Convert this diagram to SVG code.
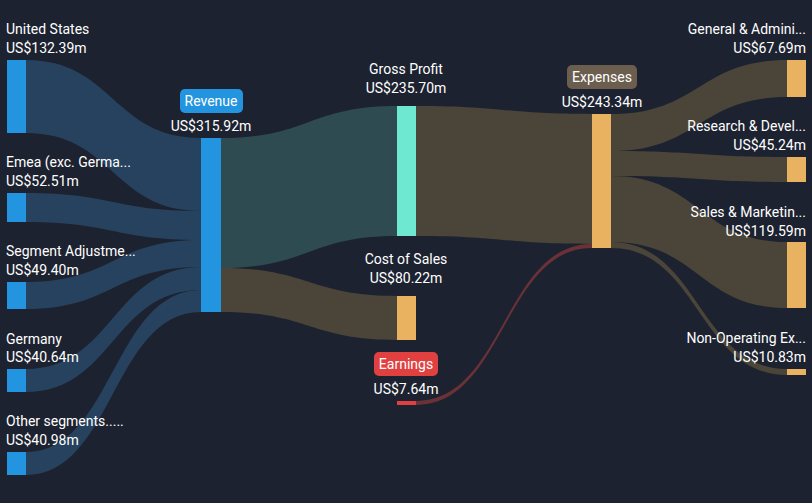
<svg xmlns="http://www.w3.org/2000/svg" width="812" height="503" viewBox="0 0 812 503">
<style>
text{font-family:Roboto,"Liberation Sans",sans-serif;font-size:14px;fill:#fff}
.r{text-anchor:end}.m{text-anchor:middle}
.fb{fill:#2a4e6e;opacity:.75}.fr{fill:#4a4538}
</style>
<rect width="812" height="503" fill="#1d2230"/>
<g id="links">
<path class="fb" d="M26,60C113,60 113,138 201,138L201,211C113,211 113,133 26,133Z"/>
<path class="fb" d="M26,193C113,193 113,211 201,211L201,240C113,240 113,222 26,222Z"/>
<path class="fb" d="M26,282C113,282 113,240 201,240L201,267C113,267 113,309 26,309Z"/>
<path class="fb" d="M26,369C113,369 113,267 201,267L201,290C113,290 113,392 26,392Z"/>
<path class="fb" d="M26,452C113,452 113,290 201,290L201,312C113,312 113,475 26,475Z"/>
<path fill="#2f4b52" d="M221,138C309,138 309,106 397,106L397,236C309,236 309,268 221,268Z"/>
<path class="fr" d="M221,268C309,268 309,296 397,296L397,340C309,340 309,312 221,312Z"/>
<path class="fr" d="M416,106C504,106 504,114 592,114L592,244C504,244 504,236 416,236Z"/>
<path fill="#6a3236" d="M416,401C504,401 504,244 592,244L592,248C504,248 504,405 416,405Z"/>
<path class="fr" d="M611,114C699,114 699,60 787,60L787,97C699,97 699,151 611,151Z"/>
<path class="fr" d="M611,151C699,151 699,157 787,157L787,182C699,182 699,176 611,176Z"/>
<path class="fr" d="M611,176C699,176 699,242 787,242L787,308C699,308 699,242 611,242Z"/>
<path class="fr" d="M611,242C699,242 699,369 787,369L787,375C699,375 699,248 611,248Z"/>
</g>
<g id="us"><rect x="7" y="60" width="19" height="73" fill="#2394e0"/><text x="6" y="34">United States</text><text x="6" y="53">US$132.39m</text></g>
<g id="emea"><rect x="7" y="193" width="19" height="29" fill="#2394e0"/><text x="6" y="167">Emea (exc. Germa...</text><text x="6" y="186">US$52.51m</text></g>
<g id="seg"><rect x="7" y="282" width="19" height="27" fill="#2394e0"/><text x="6" y="256">Segment Adjustme...</text><text x="6" y="275">US$49.40m</text></g>
<g id="germany"><rect x="7" y="369" width="19" height="23" fill="#2394e0"/><text x="6" y="344">Germany</text><text x="6" y="362">US$40.64m</text></g>
<g id="other"><rect x="7" y="452" width="19" height="23" fill="#2394e0"/><text x="6" y="426">Other segments.....</text><text x="6" y="445">US$40.98m</text></g>
<g id="revenue"><rect x="201" y="138" width="20" height="174" fill="#2394e0"/><rect x="180" y="89" width="63" height="24" rx="5" fill="#2394e0"/><text x="211" y="106" class="m">Revenue</text><text x="211" y="131" class="m">US$315.92m</text></g>
<g id="gp"><rect x="397" y="106" width="19" height="130" fill="#6ee8d0"/><text x="406" y="74" class="m">Gross Profit</text><text x="406" y="93" class="m">US$235.70m</text></g>
<g id="cos"><rect x="397" y="296" width="19" height="44" fill="#e8b260"/><text x="406" y="264" class="m">Cost of Sales</text><text x="406" y="283" class="m">US$80.22m</text></g>
<g id="earnings"><rect x="397" y="401" width="19" height="4" fill="#e04040"/><rect x="374" y="352" width="64" height="24" rx="5" fill="#e04040"/><text x="406" y="369" class="m">Earnings</text><text x="406" y="394" class="m">US$7.64m</text></g>
<g id="expenses"><rect x="592" y="114" width="19" height="134" fill="#e8b260"/><rect x="567" y="65" width="70" height="24" rx="5" fill="#6b5e4e"/><text x="602" y="82" class="m">Expenses</text><text x="602" y="107" class="m">US$243.34m</text></g>
<g id="ga"><rect x="787" y="60" width="19" height="37" fill="#e8b260"/><text x="806" y="34" class="r">General &amp; Admini...</text><text x="806" y="53" class="r">US$67.69m</text></g>
<g id="rd"><rect x="787" y="157" width="19" height="25" fill="#e8b260"/><text x="806" y="131" class="r">Research &amp; Devel...</text><text x="806" y="150" class="r">US$45.24m</text></g>
<g id="sm"><rect x="787" y="242" width="19" height="66" fill="#e8b260"/><text x="806" y="217" class="r">Sales &amp; Marketin...</text><text x="806" y="236" class="r">US$119.59m</text></g>
<g id="nonop"><rect x="787" y="369" width="19" height="6" fill="#e8b260"/><text x="806" y="343" class="r">Non-Operating Ex...</text><text x="806" y="362" class="r">US$10.83m</text></g>
</svg>
